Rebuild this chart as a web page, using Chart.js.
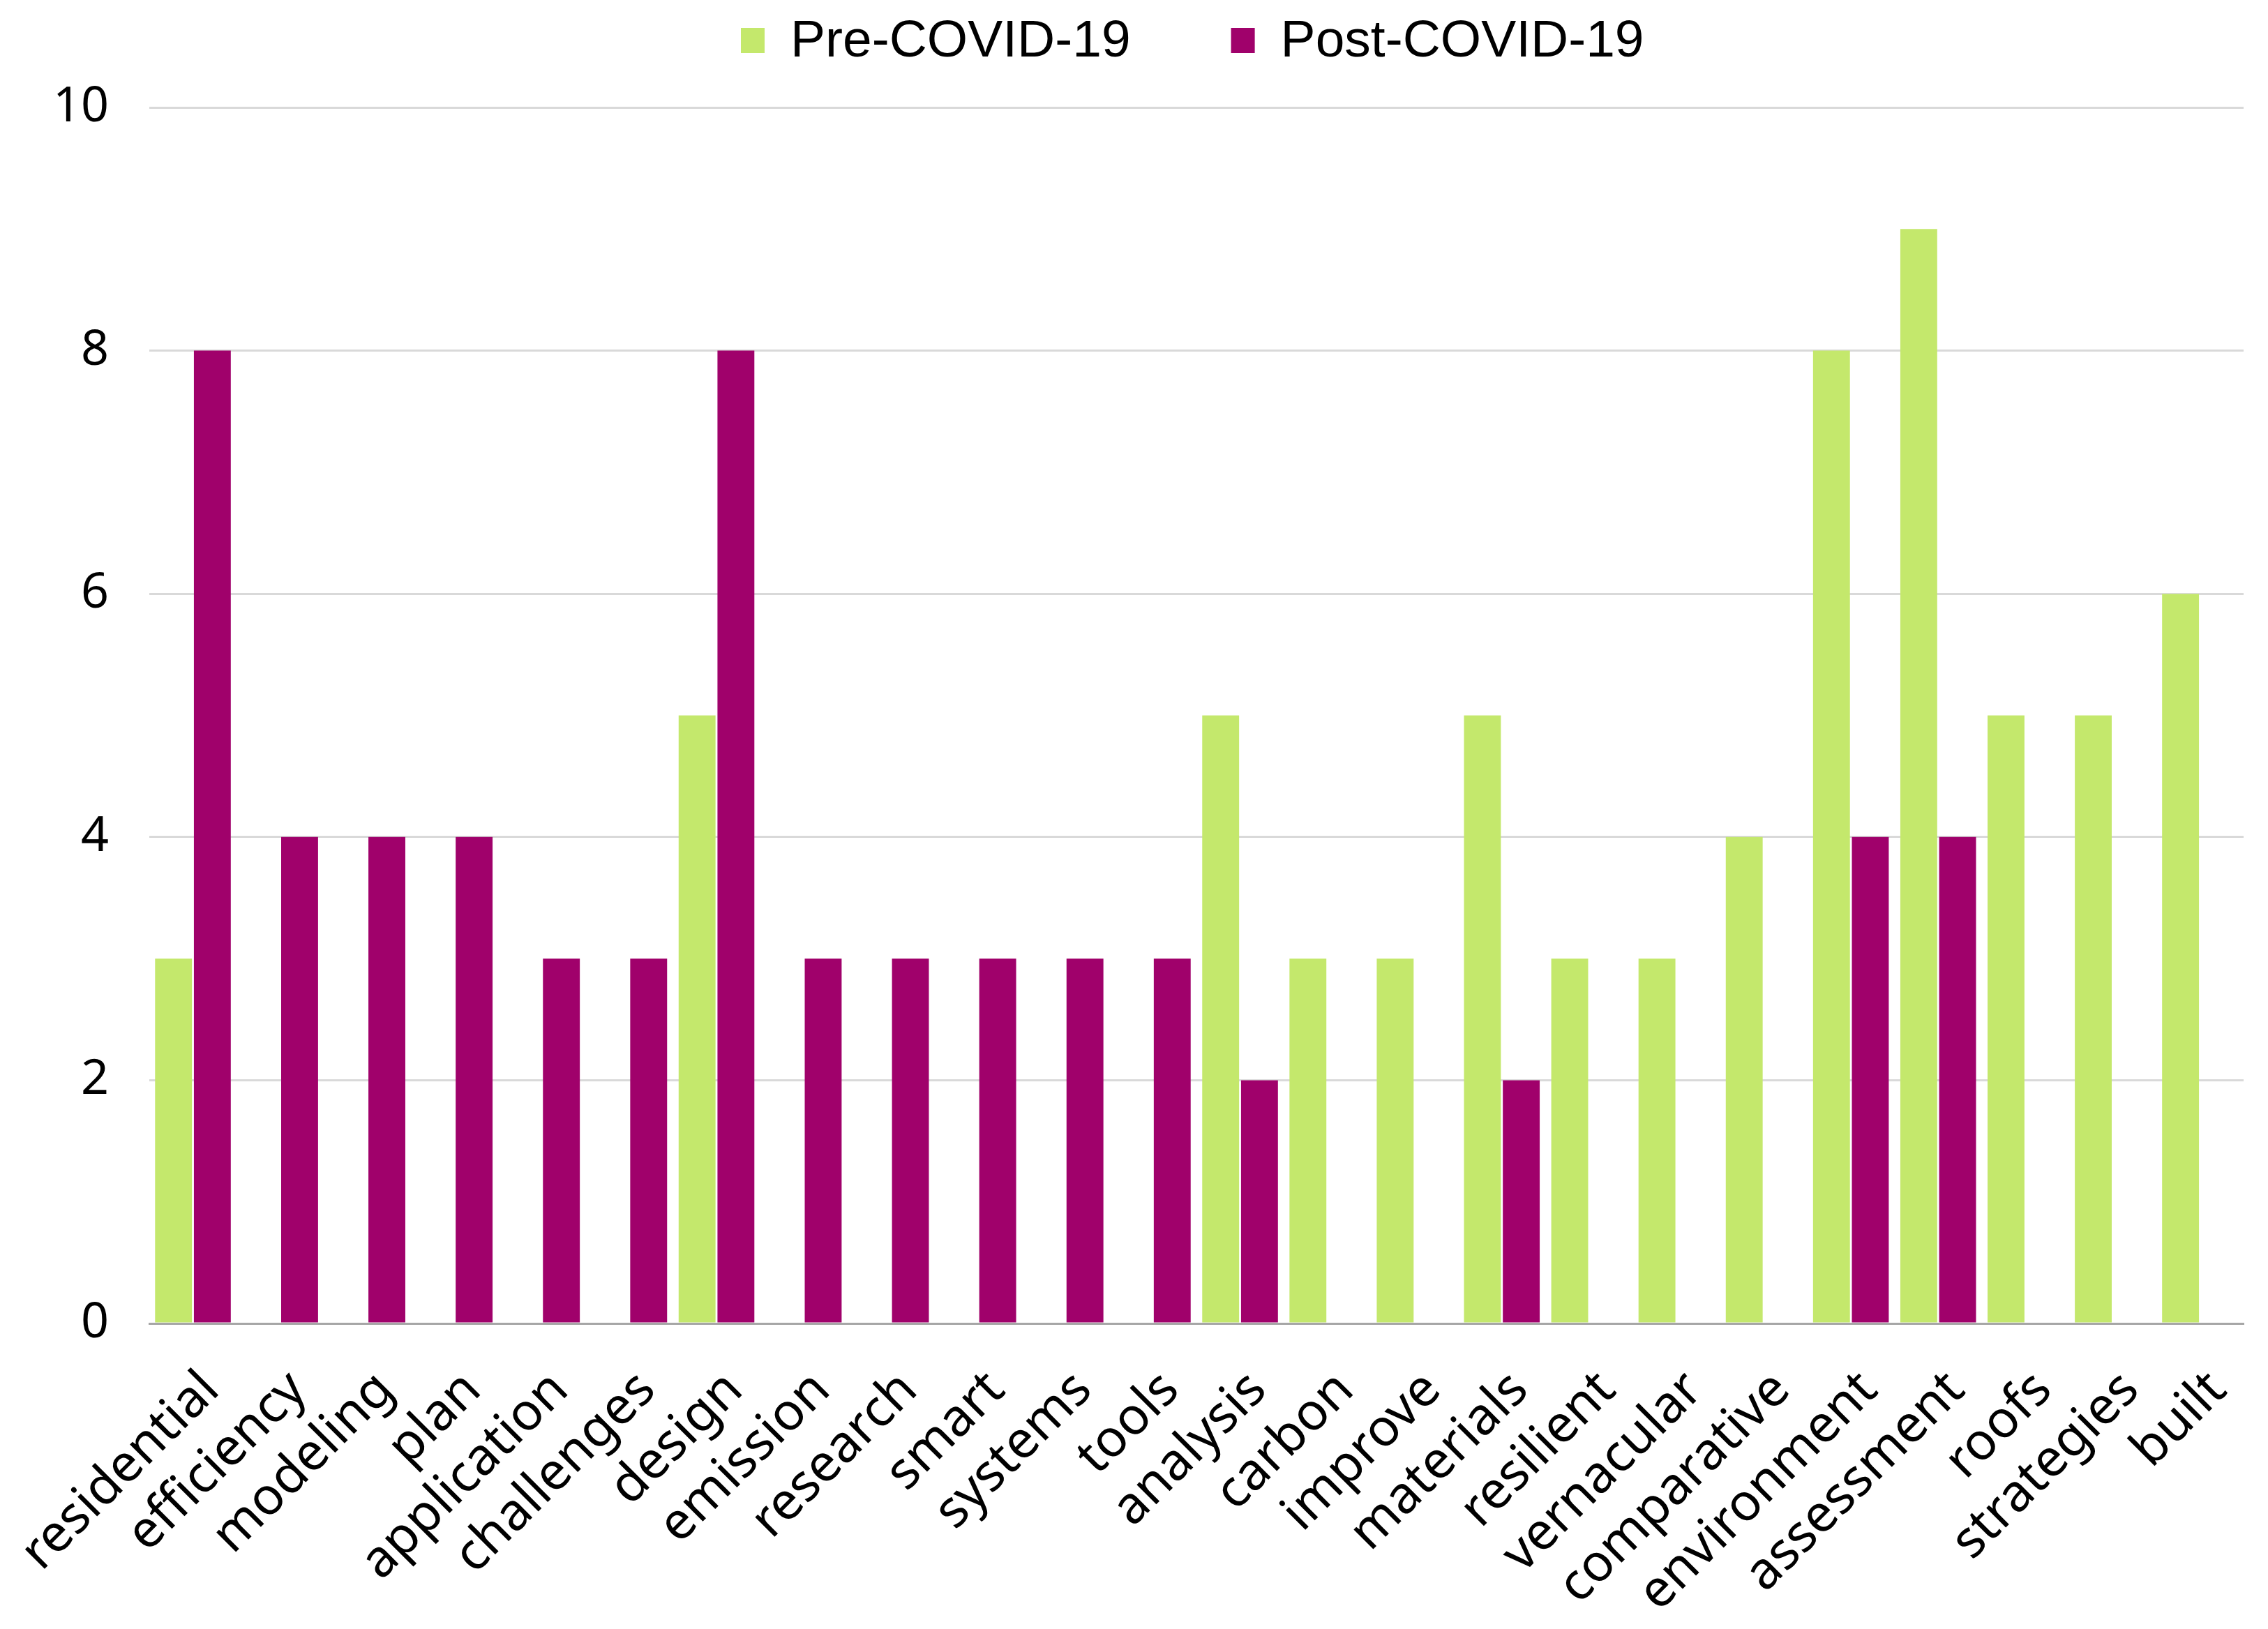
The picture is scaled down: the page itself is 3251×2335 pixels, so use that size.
<!DOCTYPE html>
<html>
<head>
<meta charset="utf-8">
<script src="https://cdn.jsdelivr.net/npm/chart.js@4"></script>
<style>
  body { margin: 0; background: #ffffff; }
  #wrap { width: 3251px; height: 2335px; }
</style>
</head>
<body>
<div id="wrap"><canvas id="keywords" width="3251" height="2335"></canvas></div>
<script>
// keywords along the x axis
const keywords = ['residential', 'efficiency', 'modeling', 'plan', 'application', 'challenges',
    'design', 'emission', 'research', 'smart', 'systems', 'tools', 'analysis', 'carbon',
    'improve', 'materials', 'resilient', 'vernacular', 'comparative', 'environment',
    'assessment', 'roofs', 'strategies', 'built']

// counts
const preCovid = [3, 0, 0, 0, 0, 0, 5, 0, 0, 0, 0, 0, 5, 3, 3, 5, 3, 3, 4, 8, 9, 5, 5, 6]
const postCovid = [8, 4, 4, 4, 3, 3, 8, 3, 3, 3, 3, 3, 2, 0, 0, 2, 0, 0, 0, 4, 4, 0, 0, 0]

const seriesNames = ['Pre-COVID-19', 'Post-COVID-19']
const seriesColors = ['#C4E86C', '#A0016B']
const yTicks = [0, 2, 4, 6, 8, 10]

const axisFont = '"Noto Sans"'

// legend drawn on top, spaced like the original
const topLegend = {
    id: 'topLegend',
    afterDraw(chart) {
        let ctx = chart.ctx
        ctx.save()
        ctx.font = '75px "Liberation Sans"'
        ctx.textBaseline = 'middle'
        ctx.textAlign = 'left'
        let x = 1062
        chart.data.datasets.forEach(ds => {
            ctx.fillStyle = ds.backgroundColor
            ctx.fillRect(x, 40, 34, 36)
            ctx.fillStyle = '#000000'
            ctx.fillText(ds.label, x + 71, 60)
            x += 71 + ctx.measureText(ds.label).width + 144
        })
        ctx.restore()
    }
}

function drawChart() {
    new Chart('keywords', {
        type: 'bar',
        data: {
            labels: keywords,
            datasets: [
                { label: seriesNames[0], data: preCovid, backgroundColor: seriesColors[0] },
                { label: seriesNames[1], data: postCovid, backgroundColor: seriesColors[1] }
            ]
        },
        options: {
            responsive: false,
            animation: false,
            devicePixelRatio: 1,
            layout: { padding: { top: 154, right: 35, left: 0, bottom: 0 } },
            datasets: {
                bar: { categoryPercentage: 0.89, barPercentage: 0.95, borderWidth: 0 }
            },
            plugins: {
                legend: { display: false },
                tooltip: { enabled: false }
            },
            scales: {
                x: {
                    grid: { display: false },
                    border: { display: true, color: '#a6a6a6', width: 3 },
                    ticks: {
                        color: '#000000',
                        font: { family: axisFont, size: 74 },
                        minRotation: 45,
                        maxRotation: 45,
                        autoSkip: false,
                        padding: 44,
                        labelOffset: 26
                    },
                    afterFit(scale) {
                        scale.height = 438
                        scale.paddingLeft = 0
                        scale.paddingRight = 0
                    }
                },
                y: {
                    min: 0,
                    max: 10,
                    afterBuildTicks(scale) { scale.ticks = yTicks.map(v => ({ value: v })) },
                    grid: {
                        color: ctx => ctx.tick.value == 0 ? '#a6a6a6' : '#d9d9d9',
                        lineWidth: 3,
                        drawTicks: false
                    },
                    border: { display: false },
                    ticks: {
                        color: '#000000',
                        font: { family: axisFont, size: 70 },
                        padding: 58
                    },
                    afterFit(scale) { scale.width = 214 }
                }
            }
        },
        plugins: [topLegend]
    })
}

Promise.all([
    document.fonts.load('74px "Noto Sans"'),
    document.fonts.load('75px "Liberation Sans"')
]).then(drawChart, drawChart)
</script>
</body>
</html>
